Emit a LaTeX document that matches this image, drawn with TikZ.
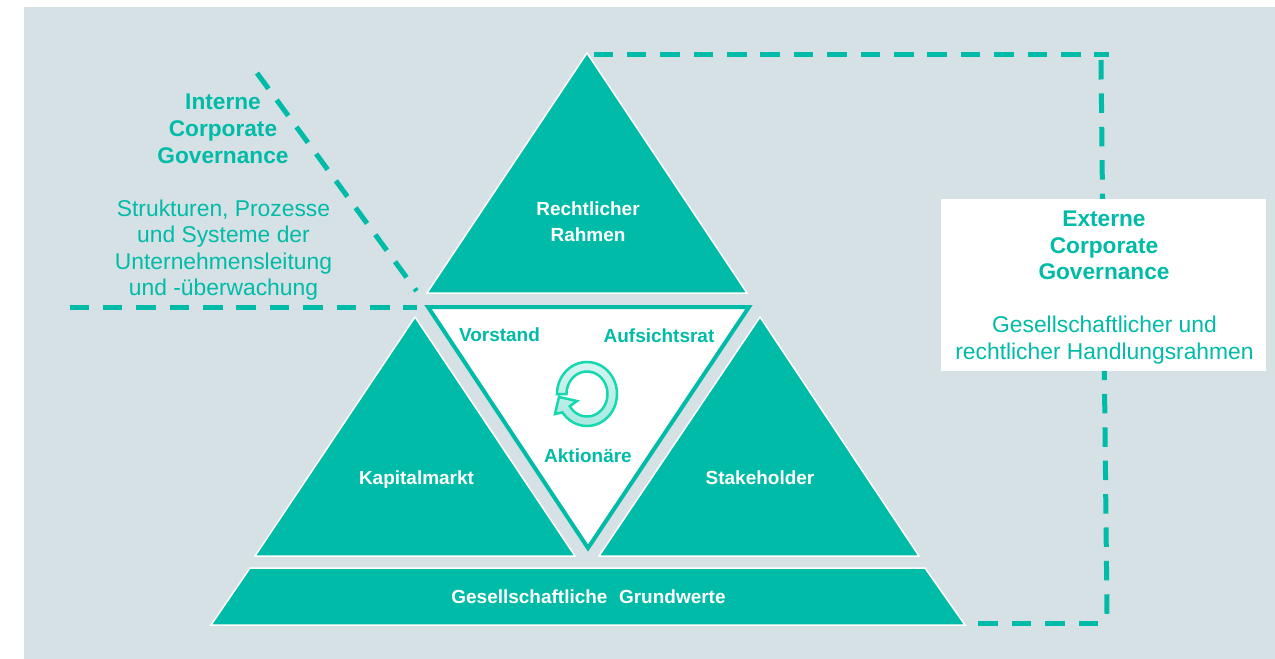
\documentclass[tikz,border=0pt]{standalone}
\usepackage{fontspec}
\setmainfont{Liberation Sans}
\definecolor{govteal}{HTML}{00BBA7}
\definecolor{govgrey}{HTML}{D6E1E6}
\definecolor{ringline}{HTML}{14D8AE}
\tikzset{
	block/.style={fill=govteal,draw=white,line width=0.03cm,line join=miter},
	blocklabel/.style={text=white,font=\fontsize{10.8}{15}\selectfont\bfseries,align=center,inner sep=0pt},
	headlabel/.style={text=govteal,font=\fontsize{12.9}{15.2}\selectfont\bfseries,align=center,inner sep=0pt},
	textlabel/.style={text=govteal,font=\fontsize{13}{15.1}\selectfont,align=center,inner sep=0pt},
	boundary/.style={draw=govteal,line width=0.1cm,dash pattern=on 0.39cm off 0.278cm},
}
\begin{document}
\begin{tikzpicture}[x=0.02cm,y=-0.02cm]
	\useasboundingbox (0,0) rectangle (1275,659);
	\fill[govgrey] (24,7) rectangle (1275,659);
	% boundary lines
	\coordinate (topstart) at (593.5,54.7);
	\coordinate (topend) at (1109,54.7);
	\coordinate (sidestart) at (1101,60);
	\coordinate (sideend) at (1107,614);
	\coordinate (botstart) at (1098,623);
	\coordinate (botend) at (978,623);
	\coordinate (diagstart) at (257,73);
	\coordinate (diagend) at (416.5,291);
	\coordinate (leftstart) at (69.5,307);
	\coordinate (leftend) at (417,307);
	\draw[boundary] (topstart)--(topend);
	\draw[boundary] (sidestart)--(sideend);
	\draw[boundary] (botstart)--(botend);
	\draw[boundary] (diagstart)--(diagend);
	\draw[boundary] (leftstart)--(leftend);
	% triangles
	\draw[block] (587,53)--(747,293)--(427,293)--cycle;
	\draw[block] (415,317)--(575,556)--(255,556)--cycle;
	\draw[block] (760,317)--(919,556)--(599,556)--cycle;
	\draw[block] (250,568)--(925,568)--(965,625)--(211,625)--cycle;
	\draw[draw=govteal,fill=white,line width=0.08cm,line join=miter] (428,307)--(749,307)--(588,548)--cycle;
	% recycle arrow
	\draw[draw=ringline,line width=0.05cm,top color=govteal!16!white,bottom color=govteal!34!white]
		plot[domain=180:-145,samples=50] ({587+30*cos(\x)},{394-32*sin(\x)})
		--(555,414)--(559,397)--(577,401)--
		plot[domain=-147:180,samples=50] ({587+20.5*cos(\x)},{394-22.5*sin(\x)})--cycle;
	% white box goes over the line
	\node[fill=white,minimum width=6.5cm,minimum height=3.44cm,inner sep=0pt] (extbox) at (1103.5,285) {};
	% labels
	\node[blocklabel] (rahmen) at (588,222) {Rechtlicher\\Rahmen};
	\node[blocklabel] (kapital) at (416.5,480) {Kapitalmarkt};
	\node[blocklabel] (stake) at (760,478) {Stakeholder};
	\node[blocklabel] (grund) at (588.5,597) {Gesellschaftliche\,\, Grundwerte};
	\node[blocklabel,text=govteal] (vorstand) at (499.5,335) {Vorstand};
	\node[blocklabel,text=govteal] (aufsicht) at (659,335.5) {Aufsichtsrat};
	\node[blocklabel,text=govteal] (aktion) at (588,456) {Aktionäre};
	\node[headlabel] (interne) at (223,129) {Interne\\Corporate\\Governance};
	\node[textlabel] (intern) at (223.5,250) {Strukturen, Prozesse\\und Systeme der\\Unternehmensleitung\\und -überwachung};
	\node[headlabel] (externe) at (1104,245.5) {Externe\\Corporate\\Governance};
	\node[textlabel] (extern) at (1104.5,340) {Gesellschaftlicher und\\rechtlicher Handlungsrahmen};
\end{tikzpicture}
\end{document}
